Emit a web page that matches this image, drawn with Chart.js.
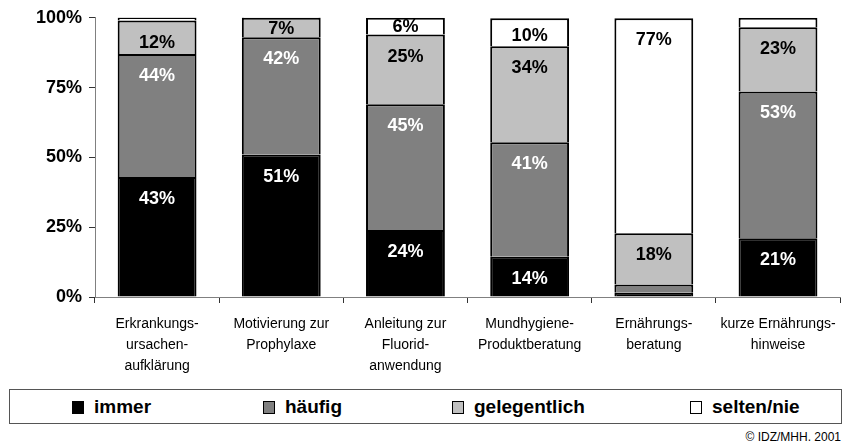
<!DOCTYPE html>
<html>
<head>
<meta charset="utf-8">
<script src="https://cdn.jsdelivr.net/npm/chart.js@4"></script>
<style>
  body { margin: 0; background: #fff; font-family: "Liberation Sans", Arial, sans-serif; }
  #wrap { position: relative; width: 847px; height: 441px; }
  #chartBox { position: absolute; left: 0; top: 0; width: 847px; height: 388px; }
  #legend { position: absolute; left: 9px; top: 389px; width: 831px; height: 33px; border: 1px solid #555; }
  .item { position: absolute; top: 7px; font-weight: bold; font-size: 19px; line-height: 20px; color: #000; white-space: nowrap; }
  .swatch { display: inline-block; width: 10px; height: 11px; border: 1px solid #000; margin-right: 10px; vertical-align: -1px; }
  #credit { position: absolute; right: 6px; top: 430px; font-size: 12px; color: #000; }
</style>
</head>
<body>
<div id="wrap">
  <div id="chartBox"><canvas id="myChart"></canvas></div>
  <div id="legend"></div>
  <div id="credit">© IDZ/MHH, 2001</div>
</div>
<script>
// Kategorien (mehrzeilig wie im Original)
const categories = [
    ['Erkrankungs-', 'ursachen-', 'aufklärung'],
    ['Motivierung zur', 'Prophylaxe'],
    ['Anleitung zur', 'Fluorid-', 'anwendung'],
    ['Mundhygiene-', 'Produktberatung'],
    ['Ernährungs-', 'beratung'],
    ['kurze Ernährungs-', 'hinweise']
];

// Anteile in Prozent
const immer        = [43, 51, 24, 14.4, 1.5, 21];
const haeufig      = [44, 42, 45, 41, 3, 52.6];
const gelegentlich = [12, 7, 25, 34.4, 18.3, 23];
const seltenNie    = [1.2, 0.4, 6, 10, 77, 3.4];

const seriesNames  = ['immer', 'häufig', 'gelegentlich', 'selten/nie'];
const seriesColors = ['#000000', '#808080', '#c0c0c0', '#ffffff'];
const labelColors  = ['#ffffff', '#ffffff', '#000000', '#000000'];
const yTicks = [0, 25, 50, 75, 100];

const FONT = '"Liberation Sans", Arial, sans-serif';

// Werte-Beschriftung in den Segmenten (oben im Segment, bei kleinen mittig)
const segmentLabels = {
    id: 'segmentLabels',
    afterDatasetsDraw(chart) {
        const ctx = chart.ctx;
        ctx.save();
        ctx.font = 'bold 18px ' + FONT;
        ctx.textAlign = 'center';
        ctx.textBaseline = 'middle';
        chart.data.datasets.forEach((ds, i) => {
            const meta = chart.getDatasetMeta(i);
            meta.data.forEach((bar, j) => {
                const v = ds.data[j];
                if (v < 5) return;
                const top = Math.min(bar.y, bar.base);
                const h = Math.abs(bar.base - bar.y);
                const off = Math.min(22, Math.max(h / 2 + 1, h - 10));
                ctx.fillStyle = labelColors[i];
                ctx.fillText(Math.round(v) + '%', bar.x, top + off);
            });
        });
        ctx.restore();
    }
};

const ctx = document.getElementById('myChart').getContext('2d');
const myChart = new Chart(ctx, {
    type: 'bar',
    data: {
        labels: categories,
        datasets: [immer, haeufig, gelegentlich, seltenNie].map((d, i) => ({
            label: seriesNames[i],
            data: d,
            backgroundColor: seriesColors[i],
            borderColor: '#000000',
            borderWidth: 2,
            barPercentage: 0.635,
            categoryPercentage: 1
        }))
    },
    options: {
        responsive: true,
        maintainAspectRatio: false,
        animation: false,
        layout: { padding: { top: 16, right: 5, left: 0, bottom: 0 } },
        plugins: {
            legend: { display: false },
            tooltip: { enabled: false }
        },
        scales: {
            x: {
                stacked: true,
                grid: { display: true, drawOnChartArea: false, drawTicks: true, tickLength: 6, color: '#333' },
                border: { display: true, color: '#808080', width: 1 },
                ticks: {
                    color: '#000',
                    maxRotation: 0,
                    autoSkip: false,
                    padding: 11,
                    font: { family: FONT, size: 14, lineHeight: 1.5 }
                }
            },
            y: {
                stacked: true,
                min: 0,
                max: 100,
                afterFit(scale) { scale.width = 95; },
                afterBuildTicks(scale) { scale.ticks = yTicks.map(v => ({ value: v })); },
                grid: { display: true, drawOnChartArea: false, drawTicks: true, tickLength: 6, color: '#333' },
                border: { display: true, color: '#808080', width: 1 },
                ticks: {
                    color: '#000',
                    padding: 7,
                    font: { family: FONT, size: 18, weight: 'bold' },
                    callback: v => v + '%'
                }
            }
        }
    },
    plugins: [segmentLabels]
});

// Legende als HTML unter dem Diagramm
const legendLeft = [62, 253, 442, 680];
const legend = document.getElementById('legend');
seriesNames.forEach((name, i) => {
    const item = document.createElement('div');
    item.className = 'item';
    item.style.left = legendLeft[i] + 'px';
    const sw = document.createElement('span');
    sw.className = 'swatch';
    sw.style.background = seriesColors[i];
    item.appendChild(sw);
    item.appendChild(document.createTextNode(name));
    legend.appendChild(item);
});
</script>
</body>
</html>
